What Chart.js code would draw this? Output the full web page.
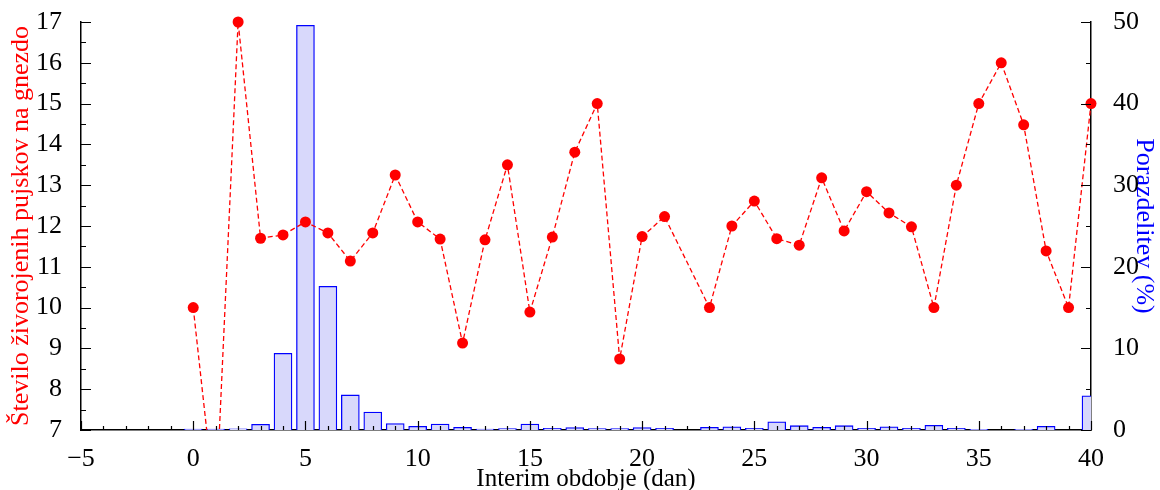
<!DOCTYPE html>
<html>
<head>
<meta charset="utf-8">
<script src="https://cdn.jsdelivr.net/npm/chart.js@4/dist/chart.umd.min.js"></script>
<style>
  html, body { margin: 0; padding: 0; background: #fff; }
  #wrap { width: 1160px; height: 490px; }
</style>
</head>
<body>
<div id="wrap"><canvas id="litterChart" width="1160" height="490"></canvas></div>
<script>
// interim period in days
const days = [0, 1, 2, 3, 4, 5, 6, 7, 8, 9, 10, 11, 12, 13, 14, 15, 16, 17, 18, 19, 20,
  21, 22, 23, 24, 25, 26, 27, 28, 29, 30, 31, 32, 33, 34, 35, 36, 37, 38, 39, 40];

// piglets born alive per litter (left axis)
const bornAlive = [10, 5, 17, 11.7, 11.78, 12.1, 11.83, 11.14, 11.83, 13.25, 12.1,
  11.68, 9.13, 11.66, 13.5, 9.89, 11.73, 13.81, 15, 8.74, 11.74,
  12.23, null, 10, 12, 12.61, 11.69, 11.53, 13.18, 11.88, 12.84,
  12.32, 11.98, 10, 13, 15, 16, 14.48, 11.39, 10, 15];

// distribution in % (right axis)
const distribution = [0.1, 0.1, 0.15, 0.7, 9.4, 49.6, 17.6, 4.3, 2.2, 0.8, 0.45,
  0.74, 0.33, 0.1, 0.16, 0.74, 0.2, 0.29, 0.16, 0.16, 0.29,
  0.2, null, 0.33, 0.4, 0.2, 1.0, 0.53, 0.33, 0.53, 0.2,
  0.4, 0.2, 0.57, 0.2, 0.08, null, 0.08, 0.45, null, 4.2];

const xTitle = 'Interim obdobje (dan)';
const leftTitle = 'Število živorojenih pujskov na gnezdo';
const rightTitle = 'Porazdelitev (%)';

const serif = 'Liberation Serif';

// small inward ticks like the original plot
const inwardTicks = {
  id: 'inwardTicks',
  afterDatasetsDraw(chart) {
    const { ctx, chartArea: a, scales } = chart;
    ctx.save();
    ctx.strokeStyle = '#000';
    ctx.lineWidth = 1.2;
    ctx.beginPath();
    for (let v = -5; v <= 40; v++) {
      const px = Math.round(scales.x.getPixelForValue(v)) + 0.5;
      const len = v % 5 === 0 ? 9 : 4;
      ctx.moveTo(px, a.bottom);
      ctx.lineTo(px, a.bottom - len);
    }
    for (let v = 7; v <= 17; v += 0.5) {
      const py = Math.round(scales.y.getPixelForValue(v)) + 0.5;
      const len = Number.isInteger(v) ? 10 : 5;
      ctx.moveTo(a.left, py);
      ctx.lineTo(a.left + len, py);
    }
    for (let v = 0; v <= 50; v += 5) {
      const py = Math.round(scales.y1.getPixelForValue(v)) + 0.5;
      const len = v % 10 === 0 ? 10 : 5;
      ctx.moveTo(a.right, py);
      ctx.lineTo(a.right - len, py);
    }
    ctx.stroke();
    ctx.restore();
  }
};

// fixed box sizes so the plot area sits where the original one does
const fixWidth = w => s => {
  s.width = w;
  s.paddingTop = 0;
  s.paddingBottom = 0;
};

const ctx = document.getElementById('litterChart').getContext('2d');

new Chart(ctx, {
  type: 'bar',
  data: {
    datasets: [
      {
        type: 'line',
        label: leftTitle,
        data: days.map((d, i) => ({ x: d, y: bornAlive[i] })),
        yAxisID: 'y',
        borderColor: '#ff0000',
        borderWidth: 1.3,
        borderDash: [5, 3],
        pointRadius: 5.5,
        pointBackgroundColor: '#ff0000',
        pointBorderWidth: 0,
        spanGaps: true,
        tension: 0,
        order: 0,
        clip: { left: 8, right: 8, top: 8, bottom: 0 }
      },
      {
        type: 'bar',
        label: rightTitle,
        data: days.map((d, i) => ({ x: d, y: distribution[i] })),
        yAxisID: 'y1',
        backgroundColor: '#d8d8fb',
        borderColor: '#0000ff',
        borderWidth: 1.3,
        barThickness: 18,
        order: 1
      }
    ]
  },
  options: {
    responsive: false,
    animation: false,
    layout: { padding: { top: 22, left: 0, right: 0, bottom: 0 } },
    plugins: {
      legend: { display: false },
      tooltip: { enabled: false }
    },
    scales: {
      x: {
        type: 'linear',
        min: -5,
        max: 40,
        offset: false,
        grid: { display: false, drawTicks: false },
        border: { display: true, color: '#000', width: 1.5 },
        ticks: {
          stepSize: 5,
          color: '#000',
          padding: 14,
          maxRotation: 0,
          font: { family: serif, size: 26 },
          callback: v => String(v).replace('-', '\u2212')
        },
        title: {
          display: true,
          text: xTitle,
          color: '#000',
          padding: -2,
          font: { family: serif, size: 25, lineHeight: 1 }
        },
        afterFit: s => { s.height = 60; }
      },
      y: {
        position: 'left',
        min: 7,
        max: 17,
        grid: { display: false, drawTicks: false },
        border: { display: true, color: '#000', width: 1.5 },
        ticks: {
          stepSize: 1,
          color: '#000',
          padding: 19,
          font: { family: serif, size: 26 }
        },
        title: {
          display: true,
          text: leftTitle,
          color: '#ff0000',
          padding: 8,
          font: { family: serif, size: 26, lineHeight: 1 }
        },
        afterFit: fixWidth(81)
      },
      y1: {
        position: 'right',
        min: 0,
        max: 50,
        grid: { display: false, drawTicks: false },
        border: { display: true, color: '#000', width: 1.5 },
        ticks: {
          stepSize: 10,
          color: '#000',
          padding: 22,
          font: { family: serif, size: 26 }
        },
        title: {
          display: true,
          text: rightTitle,
          color: '#0000ff',
          padding: 3,
          font: { family: serif, size: 26, lineHeight: 1 }
        },
        afterFit: fixWidth(69)
      }
    }
  },
  plugins: [inwardTicks]
});
</script>
</body>
</html>
